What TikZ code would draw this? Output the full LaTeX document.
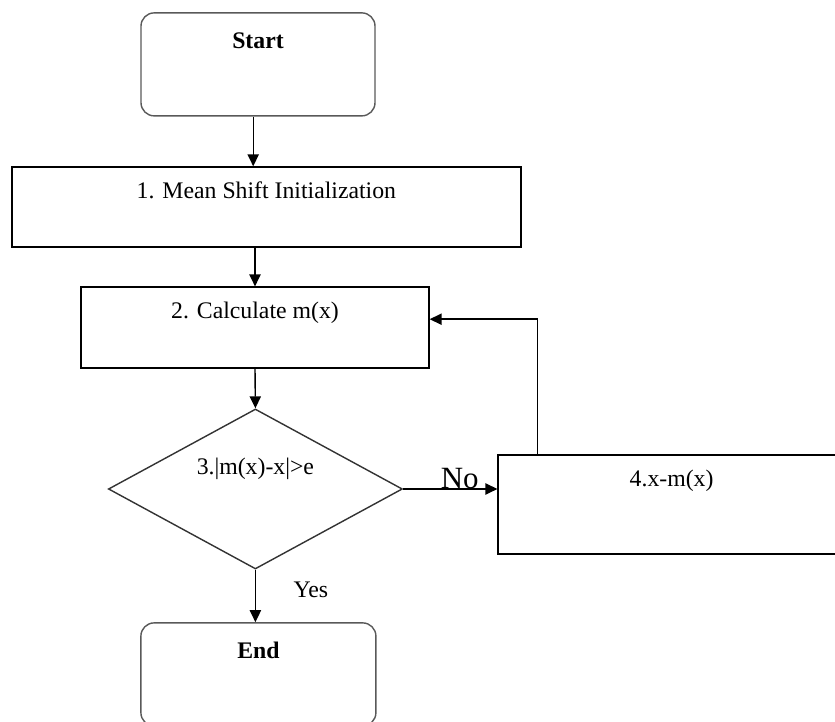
\documentclass[tikz,border=0pt]{standalone}
\usepackage{fontspec}
\setmainfont{Liberation Serif}
\usepackage{tikz}
\usetikzlibrary{arrows.meta,positioning,shapes.geometric}

\begin{document}
\begin{tikzpicture}[font=\fontsize{16.9}{20}\selectfont, >={Triangle[length=8.5pt,width=8pt]}, line width=1pt,
    box/.style={draw, inner sep=0pt, align=center},
    term/.style={box, draw=black!65, rounded corners=.33cm, font=\fontsize{16.9}{20}\selectfont\bfseries}]
    \useasboundingbox (0,0) rectangle (20.875,18.05);
    \node[term, minimum width=5.85cm, text height=.9cm, text depth=1.675cm] (start) at (6.45,16.44) {Start};
    \node[box, minimum width=12.725cm, text height=.79cm, text depth=1.21cm] (init) at (6.66,12.875) {1. Mean Shift Initialization};
    \node[box, minimum width=8.7cm, text height=.775cm, text depth=1.25cm] (calc) at (6.375,9.86) {2. Calculate m(x)};
    \node[draw=black!80, diamond, aspect=1.84, inner sep=0pt, minimum width=7.35cm, minimum height=4cm,
      text height=.4cm, text depth=1.1cm] (test) at (6.385,5.825) {3.|m(x)-x|>e};
    \node[box, minimum width=8.675cm, text height=.8cm, text depth=1.675cm] (update) at (16.79,5.44) {4.x-m(x)};
    \node[term, minimum width=5.875cm, text height=.9cm, text depth=1.675cm] (stop) at (6.46,1.19) {End};
    \draw[->] ([xshift=-.12cm]start.south) -- ([xshift=-.12cm]start.south |- init.north);
    \draw[->] (init.south -| calc.north) -- (calc.north);
    \draw[->] (calc.south) -- (test.north);
    \draw[->] (test.east) -- (test.east -| update.west)
      node[pos=.6, anchor=base, font=\fontsize{22}{26}\selectfont] (no) {No};
    \draw[->] (test.south) -- (test.south |- stop.north)
      node[pos=.53, anchor=base west, xshift=.82cm] (yes) {Yes};
    \draw[->] ([xshift=1cm]update.north west) |- ([yshift=.21cm]calc.east);
\end{tikzpicture}
\end{document}
